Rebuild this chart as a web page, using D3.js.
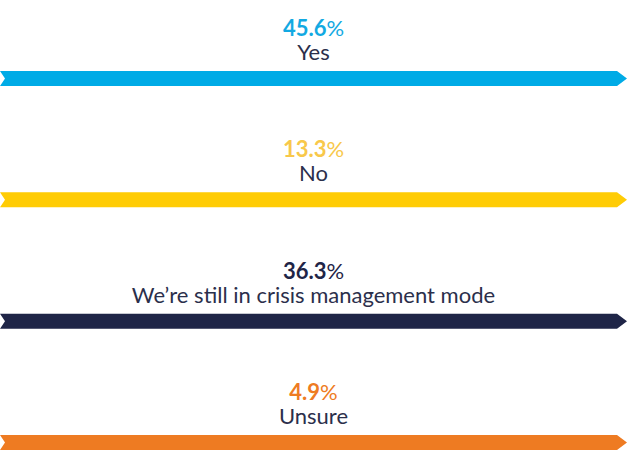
<!DOCTYPE html>
<html>
<head>
<meta charset="utf-8">
<script src="https://cdn.jsdelivr.net/npm/d3@7"></script>
<style>
  html, body { margin: 0; padding: 0; background: #fff; }
  svg { display: block; }
  text { font-family: Lato, "Open Sans", sans-serif; }
</style>
</head>
<body>
<script>
// data
var categories = ["Yes", "No", "We\u2019re still in crisis management mode", "Unsure"];
var values = [45.6, 13.3, 36.3, 4.9];
var barColors = ["#00ABE6", "#FFCC05", "#1F2547", "#EE7B22"];
var pctColors = ["#12A9E2", "#F8C84A", "#1F2547", "#EE7B22"];

var W = 627, H = 451;
var barH = 15, notch = 5, tip = 10;

var svg = d3.select("body").append("svg").attr("width", W).attr("height", H);

// each answer gets a row, bar center positions
var y = d3.scalePoint().domain(categories).range([78.5, 442.5]);
// bars all run the full width
var x = d3.scaleLinear().domain([0, 1]).range([0, W]);

function arrowPath(cy) {
  var x0 = x(0), x1 = x(1);
  var t = cy - barH / 2, b = cy + barH / 2;
  return "M" + x0 + "," + t +
    "L" + (x1 - tip) + "," + t +
    "L" + x1 + "," + cy +
    "L" + (x1 - tip) + "," + b +
    "L" + x0 + "," + b +
    "L" + (x0 + notch) + "," + cy + "Z";
}

var rows = categories.map(function (c, i) {
  return { name: c, value: values[i], bar: barColors[i], pct: pctColors[i] };
});

var g = svg.selectAll("g.row").data(rows).enter().append("g").attr("class", "row");

g.append("path")
  .attr("d", function (d) { return arrowPath(y(d.name)); })
  .attr("fill", function (d) { return d.bar; });

var pct = g.append("text")
  .attr("x", W / 2)
  .attr("y", function (d) { return y(d.name) - 42.5; })
  .attr("text-anchor", "middle")
  .attr("font-size", 22)
  .attr("fill", function (d) { return d.pct; });
pct.append("tspan").attr("font-weight", 700).text(function (d) { return d3.format(".1f")(d.value); });
pct.append("tspan").attr("font-weight", 400).text("%");

g.append("text")
  .attr("x", W / 2)
  .attr("y", function (d) { return y(d.name) - 18.5; })
  .attr("text-anchor", "middle")
  .attr("font-size", 22)
  .attr("fill", "#2B2F4B")
  .text(function (d) { return d.name; });
</script>
</body>
</html>
